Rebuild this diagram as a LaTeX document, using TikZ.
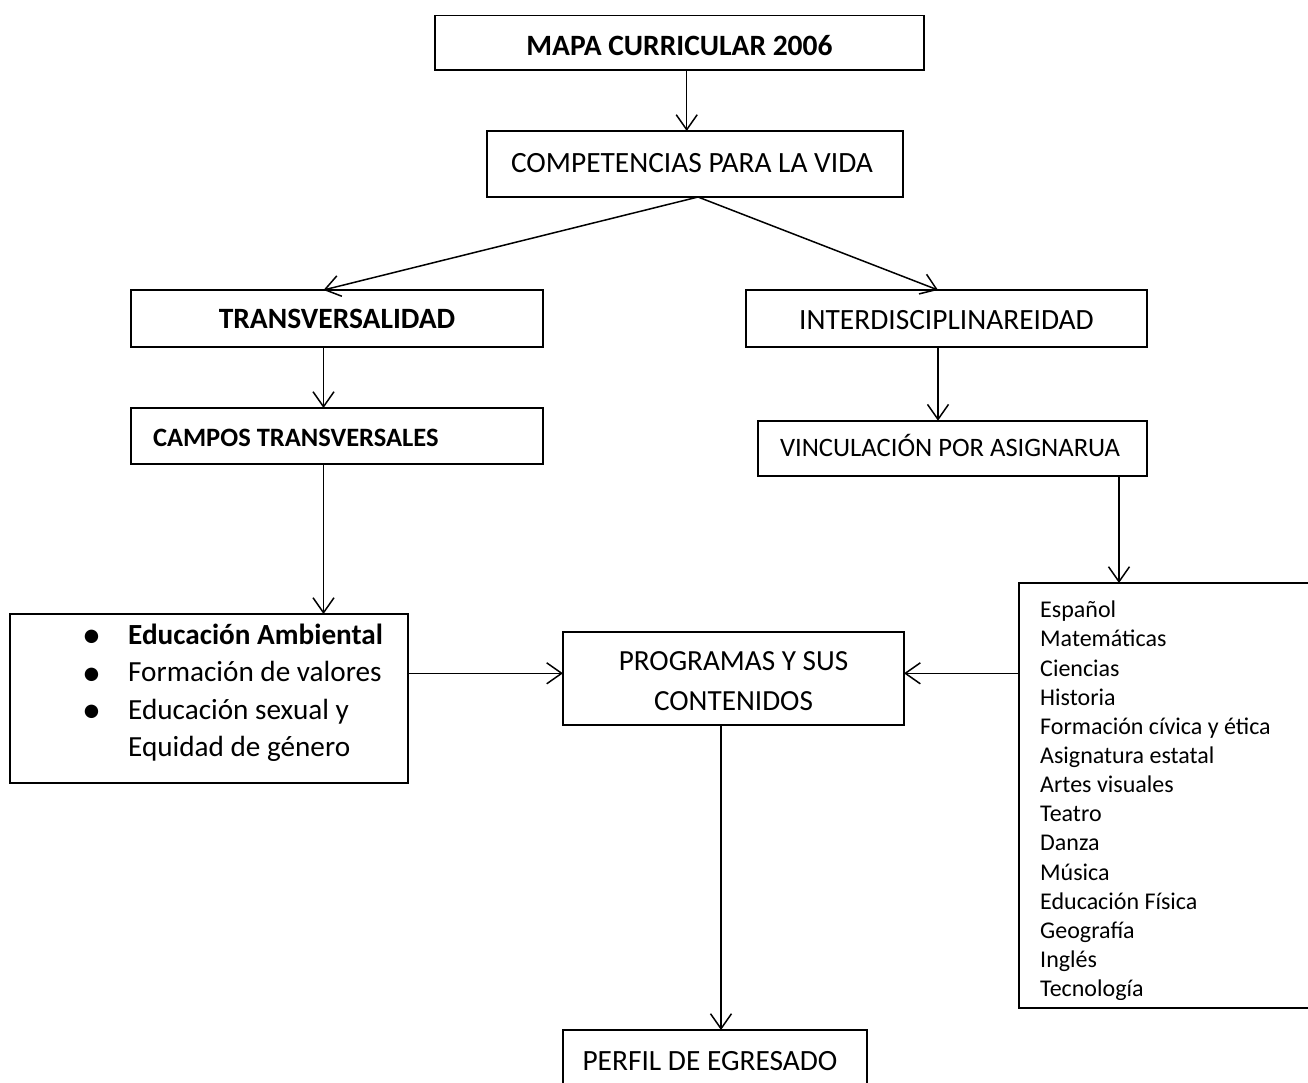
\documentclass[tikz,border=0pt]{standalone}
\usepackage{fontspec}
\usepackage{graphicx}
\setmainfont{Carlito}
\usetikzlibrary{arrows.meta}
\newcommand{\bigbul}{\smash{\raisebox{-3.5pt}{\scalebox{1.3}{\textbullet}}}}
\begin{document}
\begin{tikzpicture}[x=1pt,y=-1pt,
  box/.style={draw,line width=1.6pt,inner sep=0pt,outer sep=0pt},
  arr/.style={line width=1.5pt,-{Straight Barb[length=15pt,width=21pt,line width=1.5pt]}},
  fr/.style={font=\fontsize{29.4}{35}\selectfont},
  fb/.style={font=\fontsize{29.5}{35}\selectfont\bfseries},
  fc/.style={font=\fontsize{26.5}{32}\selectfont\bfseries},
  fv/.style={font=\fontsize{26.6}{32}\selectfont},
]
\clip (0,0) rectangle (1308,1082);
\fill[white] (0,0) rectangle (1308,1082);

% boxes (positions in pixels, y downward)
\node[box,fb,minimum width=489,text height=39.5,text depth=15] (mapa) at (679.5,42.75) {MAPA CURRICULAR 2006};
\node[box,fr,minimum width=416,text height=41,text depth=25] (comp) at (695,164) {\hspace*{-6pt}COMPETENCIAS PARA LA VIDA};
\node[box,fb,minimum width=412,text height=38.3,text depth=18.4] (trans) at (337,318.35) {TRANSVERSALIDAD};
\node[box,fr,minimum width=401,text height=39.3,text depth=17.7] (inter) at (946.5,318.5) {INTERDISCIPLINAREIDAD};
\node[box,fc,inner xsep=22,text height=38,text depth=18] (campos) at (337,436) {\makebox[368pt][l]{CAMPOS TRANSVERSALES}};
\node[box,fv,inner xsep=22,text height=36,text depth=19.3] (vinc) at (952.35,448.35) {\makebox[344.7pt][l]{VINCULACIÓN POR ASIGNARUA}};
\node[box,minimum width=398,minimum height=169] (lbox) at (209,698.5) {};
\node[box,font=\fontsize{29.2}{40}\selectfont,minimum width=341,text height=38.3,text depth=55] (prog) at (733.5,678.35)
  {\begin{tabular}[t]{@{}c@{}}PROGRAMAS Y SUS\\CONTENIDOS\end{tabular}};
\node[box,minimum width=320,minimum height=425] (rbox) at (1179,795.5) {};
\node[box,fr,minimum width=304,text height=40,text depth=40] (perfil) at (715,1070) {\hspace*{-10pt}PERFIL DE EGRESADO};

% texts inside the list boxes
\node[anchor=base west,inner sep=0pt,font=\fontsize{29.2}{37.4}\selectfont] (ltext) at (82,644.3)
  {\begin{tabular}[t]{@{}p{46pt}@{}l@{}}
   \bigbul & \textbf{Educación Ambiental}\\
   \bigbul & Formación de valores\\
   \bigbul & Educación sexual y\\
           & Equidad de género
   \end{tabular}};
\begin{scope}
\clip (rbox.north west) rectangle (1308,999);
\node[anchor=base west,inner sep=0pt,font=\fontsize{24}{29.15}\selectfont] (rtext) at (1040,617.7)
  {\begin{tabular}[t]{@{}l@{}}
   Español\\ Matemáticas\\ Ciencias\\ Historia\\ Formación cívica y ética\\
   Asignatura estatal\\ Artes visuales\\ Teatro\\ Danza\\ Música\\
   Educación Física\\ Geografía\\ Inglés\\ Tecnología
   \end{tabular}};
\end{scope}

% connector guide coordinates
\coordinate (xa) at (686.7,0);
\coordinate (xd) at (698,0);
\coordinate (xl) at (323.5,0);
\coordinate (xi) at (938,0);
\coordinate (xv) at (1119,0);
\coordinate (xp) at (721,0);
\coordinate (yh) at (0,673.3);

% connectors
\draw[arr] (mapa.south -| xa) -- (comp.north -| xa);
\draw[arr] (comp.south -| xd) -- (trans.north -| xl);
\draw[arr] (comp.south -| xd) -- (inter.north -| xi);
\draw[arr] (trans.south -| xl) -- (campos.north -| xl);
\draw[arr] (inter.south -| xi) -- (vinc.north -| xi);
\draw[arr] (campos.south -| xl) -- (lbox.north -| xl);
\draw[arr] (vinc.south -| xv) -- (rbox.north -| xv);
\draw[arr] (lbox.east |- yh) -- (prog.west |- yh);
\draw[arr] (rbox.west |- yh) -- (prog.east |- yh);
\draw[arr] (prog.south -| xp) -- (perfil.north -| xp);
\end{tikzpicture}
\end{document}
